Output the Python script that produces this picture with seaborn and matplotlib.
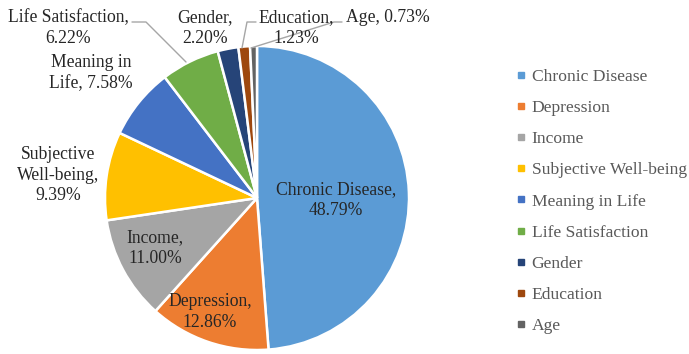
import matplotlib
matplotlib.use("Agg")
import matplotlib.pyplot as plt
from matplotlib.lines import Line2D
import seaborn as sns

categories = ["Chronic Disease", "Depression", "Income", "Subjective Well-being",
              "Meaning in Life", "Life Satisfaction", "Gender", "Education", "Age"]
shares = [48.79, 12.86, 11.00, 9.39, 7.58, 6.22, 2.20, 1.23, 0.73]
slice_labels = ["Chronic Disease,\n48.79%", "Depression,\n12.86%", "Income,\n11.00%",
                "Subjective\nWell-being,\n9.39%", "Meaning in\nLife, 7.58%",
                "Life Satisfaction,\n6.22%", "Gender,\n2.20%", "Education,\n1.23%",
                "Age, 0.73%"]
colors = ["#5B9BD5", "#ED7D31", "#A5A5A5", "#FFC000", "#4472C4",
          "#70AD47", "#264478", "#9E480E", "#636363"]

sns.set_theme(style="white")
plt.rcParams["font.family"] = ["Liberation Serif", "DejaVu Serif"]

W, H = 689, 354
fig = plt.figure(figsize=(W / 100, H / 100), dpi=100)
ax = fig.add_axes([0, 0, 1, 1])

cx, cy, R = 257, H - 198, 152
ax.pie(shares, colors=colors, startangle=90, counterclock=False,
       center=(cx, cy), radius=R, frame=True,
       wedgeprops=dict(edgecolor="white", linewidth=1.8))
ax.set_xlim(0, W)
ax.set_ylim(0, H)
ax.set_aspect("equal")
ax.axis("off")

# label positions in pixel space (y measured from the top)
label_pos = [(336, 200), (210, 312), (155, 248), (58, 175), (91, 73),
             (68, 28), (205, 28), (296, 28), (388, 17)]
fs = 12.7
txt_color = "#262626"
for lab, (x, y) in zip(slice_labels, label_pos):
    ax.text(x, H - y, lab, ha="center", va="center", fontsize=fs,
            color=txt_color, linespacing=1.25)

# leader lines
lc = "#A6A6A6"
ax.plot([132, 146, 186], [H - 22, H - 22, H - 62], color=lc, lw=1)
ax.plot([256, 247, 242], [H - 22, H - 22, H - 48], color=lc, lw=1)
ax.plot([342, 334, 251], [H - 22, H - 22, H - 48], color=lc, lw=1)

handles = [Line2D([0], [0], marker="s", linestyle="none", markersize=5,
                  markerfacecolor=c, markeredgecolor=c) for c in colors]
leg = fig.legend(handles, categories, loc="upper left",
                 bbox_to_anchor=(516 / W, 1 - 68.5 / H), frameon=False,
                 fontsize=12.6, labelspacing=0.855, handlelength=0.6,
                 handletextpad=0.3, borderpad=0, borderaxespad=0)
for t in leg.get_texts():
    t.set_color("#595959")

fig.savefig("out.png", dpi=100)
